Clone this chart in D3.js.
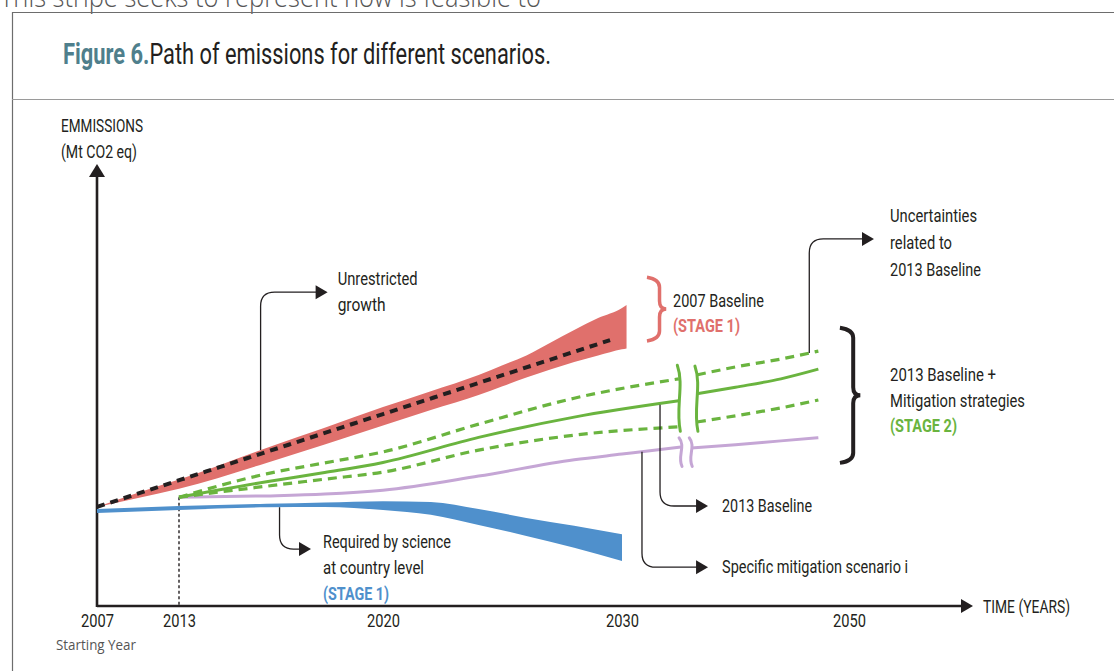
<!DOCTYPE html>
<html><head><meta charset="utf-8">
<script src="https://cdn.jsdelivr.net/npm/d3@7"></script>
<style>
html,body{margin:0;padding:0;background:#fff;}
svg{display:block;}
text{font-family:"Liberation Sans Narrow","Roboto","Noto Sans",sans-serif;}
</style></head><body>
<svg id="chart" width="1114" height="671"></svg>
<script>
// ---------------- data ----------------
const tickYears = [2007, 2013, 2020, 2030, 2050];
const tickLabels = ["2007", "2013", "2020", "2030", "2050"];

// 2007 Baseline band (Stage 1) – [year, index value]
const baseline2007Upper = [[2007,22.3],[2010,25.5],[2013,28.5],[2016,35.7],[2018,40.3],[2020,45.0],[2022,48.6],[2024,52.3],[2025,54.5],[2026,56.7],[2027,59.6],[2028,62.5],[2029,65.2],[2030,67.5],[2030.4,68.2]];
const baseline2007Lower = [[2007,22.3],[2010,24.3],[2013,26.4],[2016,32.3],[2018,36.5],[2020,40.8],[2022,44.3],[2024,47.7],[2025,49.7],[2026,51.7],[2027,53.5],[2028,55.2],[2029,56.7],[2030,58.1],[2030.4,58.3]];
// Unrestricted growth
const unrestricted = [[2007,22.3],[2020,43.4],[2029.5,60.2]];
// 2013 Baseline + mitigation (Stage 2)
const baseline2013 = [[2013,24.5],[2016,28.0],[2018,30.1],[2020,32.4],[2024,38.1],[2028,42.7],[2035,46.4]];
const baseline2013Late = [[2036.6,48.0],[2040,49.5],[2044,51.4],[2047.3,53.6]];
const uncertaintyHigh = [[2013,24.5],[2016,29.8],[2018,32.3],[2020,34.8],[2024,41.1],[2028,47.0],[2035,51.4]];
const uncertaintyHighLate = [[2036.6,52.3],[2040,54.1],[2044,55.9],[2047.3,57.7]];
const uncertaintyLow = [[2013,24.5],[2016,27.0],[2018,28.6],[2020,30.2],[2024,35.2],[2028,38.6],[2035,40.5]];
const uncertaintyLowLate = [[2036.6,41.6],[2040,43.0],[2044,44.8],[2047.3,46.6]];
// Specific mitigation scenario i
const mitigationI = [[2013,24.5],[2016,24.8],[2018,25.2],[2020,26.1],[2024,29.3],[2028,33.0],[2030,34.3],[2035.2,35.9]];
const mitigationILate = [[2036.1,35.7],[2040,36.4],[2044,37.3],[2047.3,38.0]];
// Required by science band (Stage 1)
const scienceUpper = [[2007,21.8],[2013,22.5],[2016,23.0],[2018,23.3],[2020,23.6],[2022,23.4],[2024,21.8],[2026,19.8],[2028,18.0],[2030,16.1]];
const scienceLower = [[2007,20.9],[2013,21.6],[2016,22.2],[2018,22.3],[2020,21.6],[2022,20.5],[2024,18.2],[2026,15.7],[2028,13.0],[2030,10.0]];

// ---------------- setup ----------------
const svg = d3.select("#chart");
const x = d3.scaleLinear().domain([2007, 2013, 2020, 2030, 2050]).range([97, 179, 383, 622, 849]);
const y = d3.scaleLinear().domain([0, 100]).range([605, 165]);

const C = {red:"#e0706c", blue:"#4f90cc", green:"#6ab43f", purple:"#c5a6d5", ink:"#231f20", teal:"#4f7f8c"};
const FS = 18.5;

function label(g, xp, yb, str, o = {}) {
  const t = g.append("text").attr("x", xp).attr("y", yb).text(str)
    .attr("font-size", o.size || FS).attr("fill", o.fill || C.ink)
    .attr("font-weight", o.weight || 400);
  if (o.family) t.style("font-family", o.family);
  if (o.anchor) t.attr("text-anchor", o.anchor);
  if (o.w) t.attr("textLength", o.w).attr("lengthAdjust", "spacingAndGlyphs");
  return t;
}
function interp(series, yr) {
  for (let i = 0; i < series.length - 1; i++) {
    const a = series[i], b = series[i + 1];
    if (yr >= a[0] && yr <= b[0]) return a[1] + (b[1] - a[1]) * (yr - a[0]) / (b[0] - a[0]);
  }
  return series[series.length - 1][1];
}
function arrowHead(g, tipX, tipY, dir) {
  const L = 12, H = 7;
  let pts;
  if (dir === "right") pts = [[tipX, tipY], [tipX - L, tipY - H], [tipX - L, tipY + H]];
  else pts = [[tipX, tipY], [tipX - H - 1, tipY + L + 1], [tipX + H + 1, tipY + L + 1]];
  g.append("path").attr("d", d3.line()(pts) + "Z").attr("fill", C.ink);
}

// ---------------- frame & header ----------------
const frame = svg.append("g");
label(frame, 0, 7, "This stripe seeks to represent how is feasible to", {size: 27, fill: "#555", w: 541, family: "'Open Sans',sans-serif", weight: 300});
frame.append("line").attr("x1", 12).attr("x2", 1114).attr("y1", 12.5).attr("y2", 12.5).attr("stroke", "#6d6d6d").attr("stroke-width", 1.2);
frame.append("line").attr("x1", 12.5).attr("x2", 12.5).attr("y1", 12).attr("y2", 671).attr("stroke", "#6d6d6d").attr("stroke-width", 1.2);
frame.append("line").attr("x1", 12).attr("x2", 1114).attr("y1", 99.5).attr("y2", 99.5).attr("stroke", "#9a9a9a").attr("stroke-width", 1.2);
const title = frame.append("text").attr("x", 63).attr("y", 64).attr("font-size", 29)
  .attr("textLength", 488).attr("lengthAdjust", "spacingAndGlyphs");
title.append("tspan").attr("font-weight", 700).attr("fill", C.teal).text("Figure 6.");
title.append("tspan").attr("fill", C.ink).text("Path of emissions for different scenarios.");

// ---------------- axes ----------------
const axes = svg.append("g");
const xAxis = d3.axisBottom(x).tickValues(tickYears).tickFormat((d, i) => tickLabels[i]).tickSize(0).tickPadding(12);
const xg = axes.append("g").attr("transform", `translate(0,${y(0)})`).call(xAxis);
xg.select(".domain").remove();
xg.selectAll("text").attr("font-size", 18.5).attr("fill", C.ink)
  .style("font-family", '"Liberation Sans Narrow","Roboto",sans-serif')
  .attr("textLength", 33).attr("lengthAdjust", "spacingAndGlyphs").attr("dy", "0.55em");
axes.append("line").attr("x1", x(2007)).attr("x2", 962).attr("y1", y(0) + 1).attr("y2", y(0) + 1).attr("stroke", C.ink).attr("stroke-width", 2.6);
arrowHead(axes, 973, y(0) + 1, "right");
axes.append("line").attr("x1", x(2007)).attr("x2", x(2007)).attr("y1", y(0) + 2).attr("y2", 176).attr("stroke", C.ink).attr("stroke-width", 2.6);
arrowHead(axes, x(2007), 164, "up");
label(axes, 61, 132, "EMMISSIONS", {size: 17.5, w: 82});
label(axes, 61, 158, "(Mt CO2 eq)", {size: 17.5, w: 76});
label(axes, 983, 613, "TIME (YEARS)", {size: 18.5, w: 87});
label(axes, 56, 650, "Starting Year", {size: 15, fill: "#555", w: 80, family: "'Open Sans',sans-serif"});
// 2013 start marker
axes.append("line").attr("x1", x(2013)).attr("x2", x(2013)).attr("y1", y(24.5)).attr("y2", y(0))
  .attr("stroke", C.ink).attr("stroke-width", 1.4).attr("stroke-dasharray", "3,2.5");

// ---------------- series ----------------
const plot = svg.append("g");
const lineGen = d3.line().x(d => x(d[0])).y(d => y(d[1])).curve(d3.curveMonotoneX);
const bandGen = (up, lo) => d3.area().x(d => x(d[0])).y1(d => y(d[1])).y0((d, i) => y(lo[i][1])).curve(d3.curveMonotoneX)(up);

plot.append("path").attr("d", bandGen(baseline2007Upper, baseline2007Lower)).attr("fill", C.red);
plot.append("path").attr("d", bandGen(scienceUpper, scienceLower)).attr("fill", C.blue);

plot.append("path").attr("d", lineGen(unrestricted)).attr("fill", "none").attr("stroke", C.ink)
  .attr("stroke-width", 4).attr("stroke-dasharray", "8,6");

[mitigationI, mitigationILate].forEach(s =>
  plot.append("path").attr("d", lineGen(s)).attr("fill", "none").attr("stroke", C.purple).attr("stroke-width", 3));
[uncertaintyHigh, uncertaintyHighLate, uncertaintyLow, uncertaintyLowLate].forEach(s =>
  plot.append("path").attr("d", lineGen(s)).attr("fill", "none").attr("stroke", C.green).attr("stroke-width", 3.2).attr("stroke-dasharray", "9,6"));
[baseline2013, baseline2013Late].forEach(s =>
  plot.append("path").attr("d", lineGen(s)).attr("fill", "none").attr("stroke", C.green).attr("stroke-width", 3));

// axis break marks
function breakMark(xp, y0, y1, color) {
  const h = y1 - y0;
  plot.append("path").attr("d", `M${xp - 2},${y0} C${xp + 5},${y0 + h * 0.3} ${xp - 4},${y0 + h * 0.65} ${xp + 1},${y1}`)
    .attr("fill", "none").attr("stroke", color).attr("stroke-width", 3).attr("stroke-linecap", "round");
}
breakMark(x(2035.05), y(54.5), y(39.5), C.green);
breakMark(x(2036.6), y(54.3), y(39.5), C.green);
breakMark(x(2035.2), y(38), y(31.5), C.purple);
breakMark(x(2036.1), y(38), y(31.5), C.purple);

// ---------------- annotations ----------------
const ann = svg.append("g");
function calloutPath(ax, ay, turnY, tipX) {
  const r = 14, s = turnY < ay ? -1 : 1;
  return `M${ax},${ay} V${turnY - s * r} Q${ax},${turnY} ${ax + r},${turnY} H${tipX - 10}`;
}
function callout(yrAnchor, series, turnVal, yrTip) {
  const ax = x(yrAnchor), ay = y(interp(series, yrAnchor)), ty = y(turnVal), tx = x(yrTip);
  ann.append("path").attr("d", calloutPath(ax, ay, ty, tx)).attr("fill", "none").attr("stroke", C.ink).attr("stroke-width", 1.3);
  arrowHead(ann, tx, ty, "right");
  return {tx, ty};
}
let c;
c = callout(2015.8, baseline2007Upper, 71.1, 2018.1);
label(ann, c.tx + 10, c.ty - 7, "Unrestricted", {w: 80});
label(ann, c.tx + 10, c.ty + 19, "growth", {w: 48});

c = callout(2016.45, scienceLower, 12.7, 2017.53);
label(ann, c.tx + 12, c.ty - 1, "Required by science", {w: 128});
label(ann, c.tx + 12, c.ty + 25, "at country level", {w: 101});
label(ann, c.tx + 12, c.ty + 51, "(STAGE 1)", {w: 66, weight: 700, fill: C.blue});

c = callout(2033.35, baseline2013, 22.5, 2037.58);
label(ann, c.tx + 14, c.ty + 6, "2013 Baseline", {w: 90});

c = callout(2031.76, mitigationI, 8.6, 2037.58);
label(ann, c.tx + 14, c.ty + 6, "Specific mitigation scenario i", {w: 186});

c = callout(2046.5, uncertaintyHighLate, 83.2, 2052.2);
label(ann, 890, c.ty - 17, "Uncertainties", {w: 87});
label(ann, 890, c.ty + 10, "related to", {w: 62});
label(ann, 890, c.ty + 37, "2013 Baseline", {w: 91});

// braces
function brace(xl, xr, yt, yb, color, sw) {
  const ym = (yt + yb) / 2, xm = xr - (xr - xl) * 0.35;
  const d = `M${xl},${yt} Q${xm},${yt + 2} ${xm},${yt + 10} V${ym - 8} Q${xm},${ym} ${xr},${ym} Q${xm},${ym} ${xm},${ym + 8} V${yb - 10} Q${xm},${yb - 2} ${xl},${yb}`;
  ann.append("path").attr("d", d).attr("fill", "none").attr("stroke", color).attr("stroke-width", sw).attr("stroke-linejoin", "miter");
}
brace(x(2032.2), x(2033.9), y(74.5), y(60), C.red, 3.5);
label(ann, 673, 307, "2007 Baseline", {w: 91});
label(ann, 673, 332, "(STAGE 1)", {w: 67, weight: 700, fill: C.red});

brace(x(2049.2), x(2051), y(63), y(32.3), C.ink, 4);
label(ann, 890, 381, "2013 Baseline +", {w: 106});
label(ann, 890, 407, "Mitigation strategies", {w: 135});
label(ann, 890, 432, "(STAGE 2)", {w: 67, weight: 700, fill: C.green});
</script>
</body></html>
